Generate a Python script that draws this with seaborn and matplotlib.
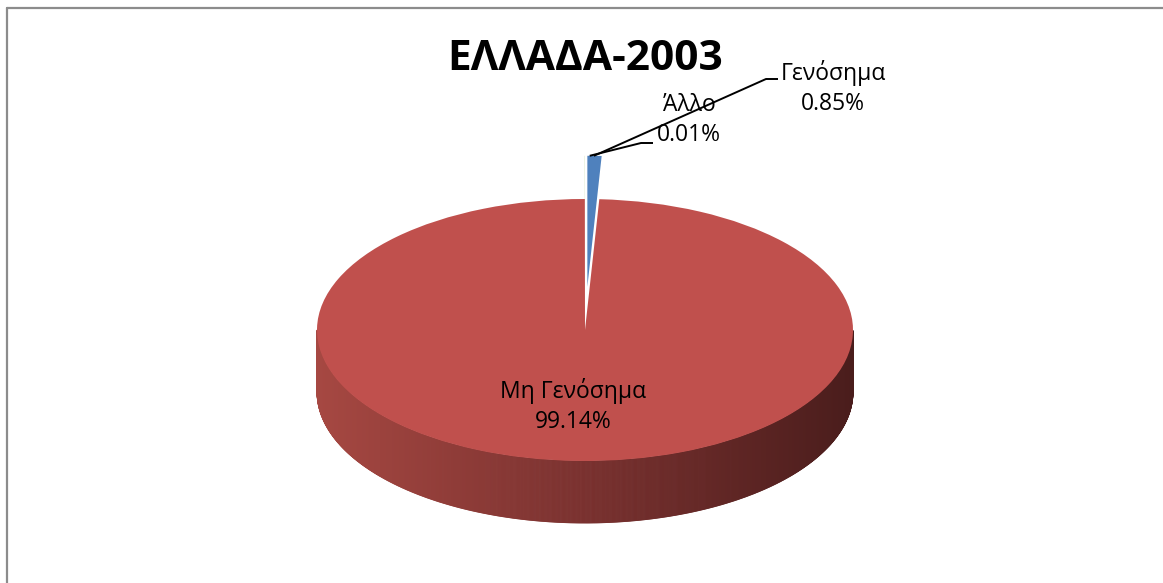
import numpy as np
import matplotlib
matplotlib.use("Agg")
import matplotlib.pyplot as plt
from matplotlib.collections import PolyCollection
from matplotlib.colors import to_rgb
import seaborn as sns

# ---- data ----
categories = ["Γενόσημα", "Μη Γενόσημα", "Άλλο"]
shares = [0.85, 99.14, 0.01]
title = "ΕΛΛΑΔΑ-2003"

sns.set_theme(style="white")
plt.rcParams["font.family"] = ["Open Sans", "DejaVu Sans"]

colors = sns.color_palette(["#4F81BD", "#C0504D", "#9BBB59"])

W, H = 1163, 583
fig = plt.figure(figsize=(W / 100, H / 100), dpi=100)
ax = fig.add_axes([0, 0, 1, 1])

# geometry (screen pixels)
cx, cy = 585, 330
rx, ry = 268, 131
depth = 62
S = rx / ry  # vertical squash factor
expl = 0.33 * rx


def to_data(X, Y):
    return X, (H - Y) * S


c_data = to_data(cx, cy)
wedges, _ = ax.pie(shares, colors=colors, startangle=90, counterclock=False,
                   radius=rx, center=c_data, explode=[expl, 0, expl],
                   wedgeprops=dict(linewidth=0, edgecolor="none"))
ax.set_aspect("auto")
ax.set_xlim(0, W)
ax.set_ylim(0, H * S)
ax.axis("off")

wedges[0].set_zorder(1)
wedges[2].set_zorder(1)
wedges[1].set_zorder(3)

# side wall of the big wedge (front half), shaded gradient
red = wedges[1]
th = np.radians(np.linspace(red.theta1, red.theta2, 1500))
th = th[np.sin(th) < 0]
d = depth * S
xs = c_data[0] + rx * np.cos(th)
ys = c_data[1] + rx * np.sin(th)
polys, cols = [], []
stops = [to_rgb("#A64842"), to_rgb("#7A312F"), to_rgb("#4A1D1C")]
for i in range(len(th) - 1):
    polys.append([(xs[i], ys[i]), (xs[i + 1], ys[i + 1]),
                  (xs[i + 1], ys[i + 1] - d), (xs[i], ys[i] - d)])
    t = (xs[i] - (cx - rx)) / (2 * rx)
    if t < 0.5:
        a, b, u = stops[0], stops[1], t / 0.5
    else:
        a, b, u = stops[1], stops[2], (t - 0.5) / 0.5
    cols.append(tuple(a[j] + (b[j] - a[j]) * u for j in range(3)))
pc = PolyCollection(polys, facecolors=cols, edgecolors=cols, linewidths=0.6, zorder=2)
ax.add_collection(pc)

# leader lines from the exploded small slices
blue = wedges[0]
bcx, bcy = blue.center
tip = (bcx + rx * np.cos(np.radians(88.6)), bcy + rx * np.sin(np.radians(88.6)))
tip2 = (bcx + rx * np.cos(np.radians(89.5)), bcy + rx * np.sin(np.radians(89.5)))
g_elbow = to_data(766, 79)
g_end = to_data(778, 79)
a_elbow = to_data(641, 143)
a_end = to_data(653, 143)
ax.plot([tip[0], g_elbow[0], g_end[0]], [tip[1], g_elbow[1], g_end[1]],
        color="black", lw=1.4, zorder=5, solid_capstyle="butt")
ax.plot([tip2[0], a_elbow[0], a_end[0]], [tip2[1], a_elbow[1], a_end[1]],
        color="black", lw=1.4, zorder=5, solid_capstyle="butt")

fs = 16.5
label_pos = {"Γενόσημα": (833, 88), "Μη Γενόσημα": (573, 406), "Άλλο": (689, 120)}
for cat, val in zip(categories, shares):
    X, Y = label_pos[cat]
    ax.text(*to_data(X, Y), f"{cat}\n{val:.2f}%", ha="center", va="center",
            fontsize=fs, linespacing=1.35, zorder=6, color="black")

fig.text(585 / W, 1 - 60 / H, title, ha="center", va="center",
         fontsize=30.5, fontweight="bold", color="black")

# chart border
fig.add_artist(plt.Line2D([7 / W, 7 / W], [0, 1 - 7.5 / H], transform=fig.transFigure,
                          color="#8C8C8C", lw=1.6))
fig.add_artist(plt.Line2D([7 / W, 1], [1 - 7.5 / H, 1 - 7.5 / H], transform=fig.transFigure,
                          color="#8C8C8C", lw=1.6))

fig.savefig("out.png", dpi=100, facecolor="white")
